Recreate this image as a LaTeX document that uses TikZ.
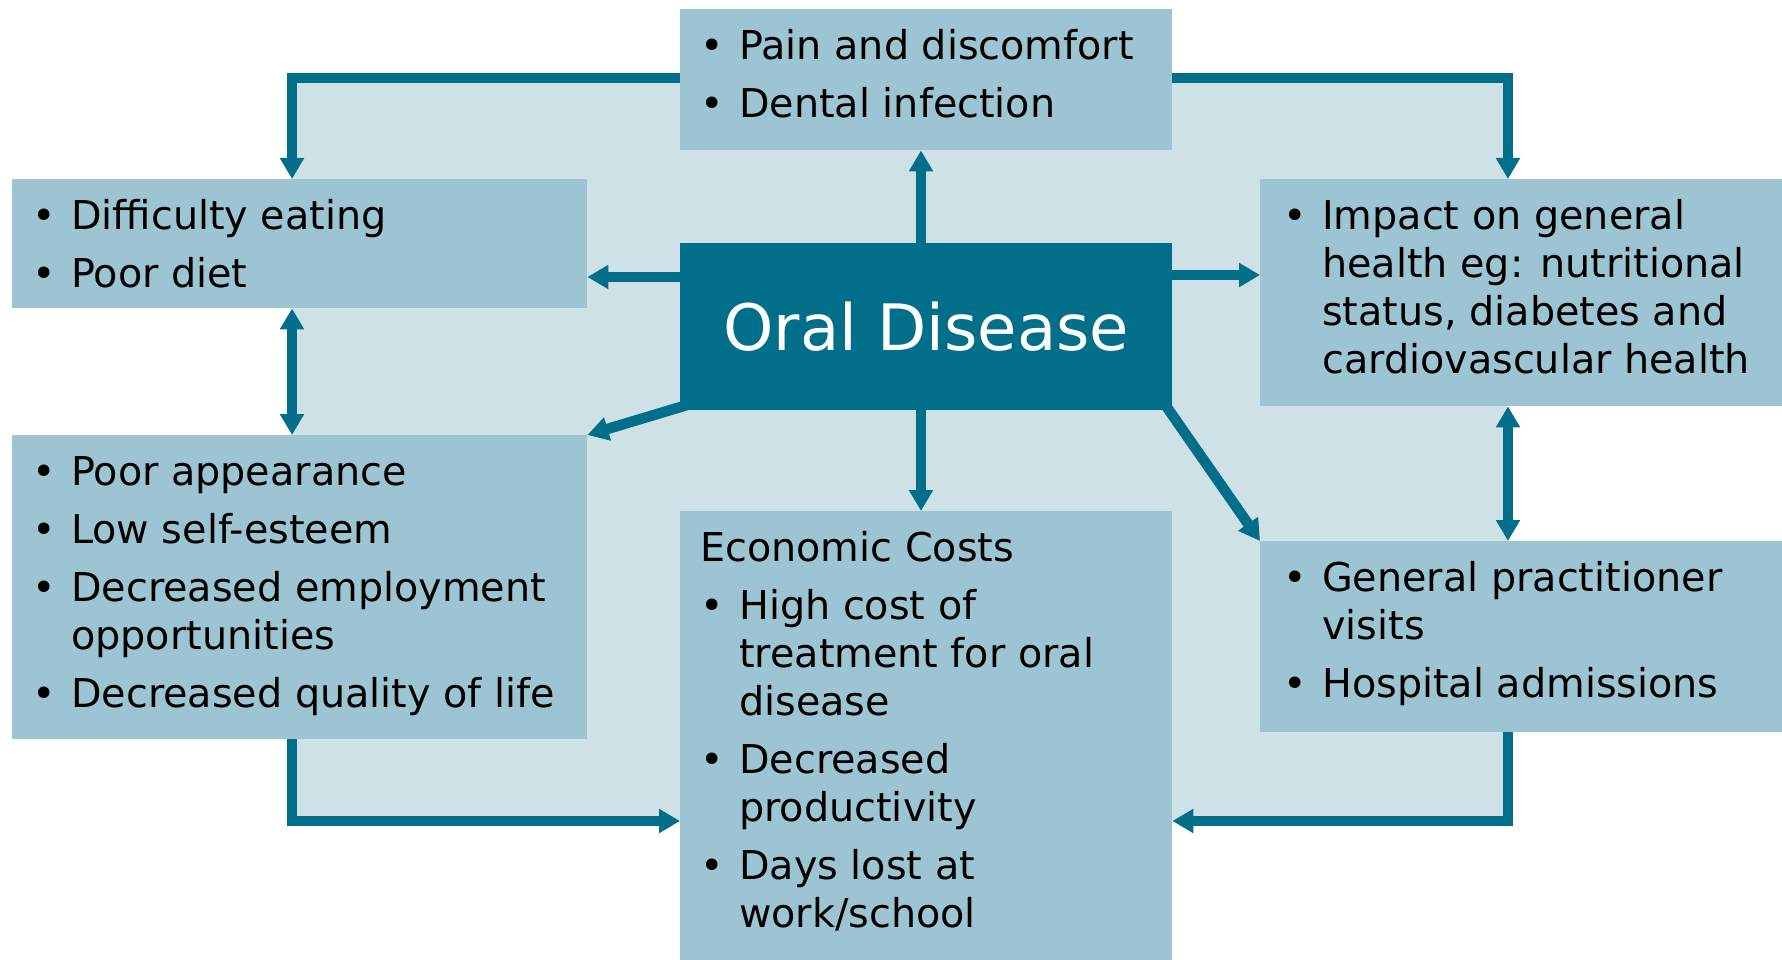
\documentclass[tikz,border=0pt]{standalone}
\usepackage{fontspec}
\setmainfont{DejaVu Sans}
\usetikzlibrary{arrows.meta}
\definecolor{darkteal}{HTML}{016F89}
\definecolor{boxblue}{HTML}{9CC4D2}
\definecolor{lightblue}{HTML}{CDE1E7}
\newcommand{\bitem}[1]{\par\hangindent=39pt\hangafter=1\noindent\strut\makebox[39pt][l]{\textbullet}#1}
\newcommand{\gap}{\par\vspace{10pt}}
\newcommand{\boxtext}[3]{\parbox[c][#1][t]{#2}{\raggedright\vspace*{16.4pt}#3\par}}
\tikzset{
  infobox/.style={fill=boxblue, draw=none, anchor=north west, inner xsep=20pt, inner ysep=0pt,
    font=\fontsize{39.7}{48}\selectfont, text=black},
  conn/.style={draw=darkteal, line width=10.5pt, line join=miter, -{Triangle[length=21pt,width=23pt]}},
  dconn/.style={draw=darkteal, line width=10.5pt, {Triangle[length=21pt,width=23pt]}-{Triangle[length=21pt,width=23pt]}}
}
\begin{document}
\begin{tikzpicture}[x=1pt,y=-1pt]
\useasboundingbox (0,0) rectangle (1782,960);
\coordinate (tl) at (292,78);
\coordinate (tr) at (1508,78);
\coordinate (bl) at (292,821);
\coordinate (br) at (1508,821);
\coordinate (cx) at (921,0);
\fill[lightblue] (tl) rectangle (br);

\node[infobox] (pain) at (680,9)
  {\boxtext{141pt}{452pt}{\bitem{Pain and discomfort}\gap\bitem{Dental infection}}};
\node[infobox] (eat) at (12,179)
  {\boxtext{129pt}{535pt}{\bitem{Difficulty eating}\gap\bitem{Poor diet}}};
\node[fill=darkteal, anchor=north west, minimum width=492pt, minimum height=167pt, inner sep=0pt,
  text=white, font=\fontsize{64}{70}\selectfont] (oral) at (680,243) {Oral Disease};
\node[infobox] (appear) at (12,435)
  {\boxtext{304pt}{535pt}{\bitem{Poor appearance}\gap\bitem{Low self-esteem}\gap
   \bitem{\mbox{Decreased employment}\newline opportunities}\gap\bitem{\mbox{Decreased quality of life}}}};
\node[infobox] (econ) at (680,511)
  {\boxtext{449pt}{452pt}{\noindent\strut Economic Costs\gap\bitem{High cost of\newline\mbox{treatment for oral}\newline disease}\gap
   \bitem{Decreased\newline productivity}\gap\bitem{Days lost at\newline work/school}}};
\node[infobox, inner xsep=23pt] (impact) at (1260,179)
  {\boxtext{227pt}{476pt}{\bitem{\mbox{Impact on general}\newline\mbox{health eg: nutritional}\newline\mbox{status, diabetes and}\newline\mbox{cardiovascular health}}}};
\node[infobox, inner xsep=23pt] (gp) at (1260,541)
  {\boxtext{191pt}{476pt}{\bitem{\mbox{General practitioner}\newline visits}\gap\bitem{\mbox{Hospital admissions}}}};

\coordinate (d1) at (727,393);
\coordinate (d2) at (1150,383);

\draw[conn] (pain.west |- tl) -- (tl) -- (tl |- eat.north);
\draw[conn] (pain.east |- tr) -- (tr) -- (tr |- impact.north);
\draw[conn] (oral.north -| cx) -- (pain.south -| cx);
\draw[conn] (oral.west |- 0,277) -- (eat.east |- 0,277);
\draw[conn] (oral.east |- 0,275) -- (impact.west |- 0,275);
\draw[dconn] (eat.south -| tl) -- (appear.north -| tl);
\draw[conn] (d1) -- (appear.north east);
\draw[conn] (oral.south -| cx) -- (econ.north -| cx);
\draw[conn] (d2) -- (gp.north west);
\draw[dconn] (impact.south -| tr) -- (gp.north -| tr);
\draw[conn] (appear.south -| bl) -- (bl) -- (econ.west |- bl);
\draw[conn] (gp.south -| br) -- (br) -- (econ.east |- br);
\end{tikzpicture}
\end{document}
